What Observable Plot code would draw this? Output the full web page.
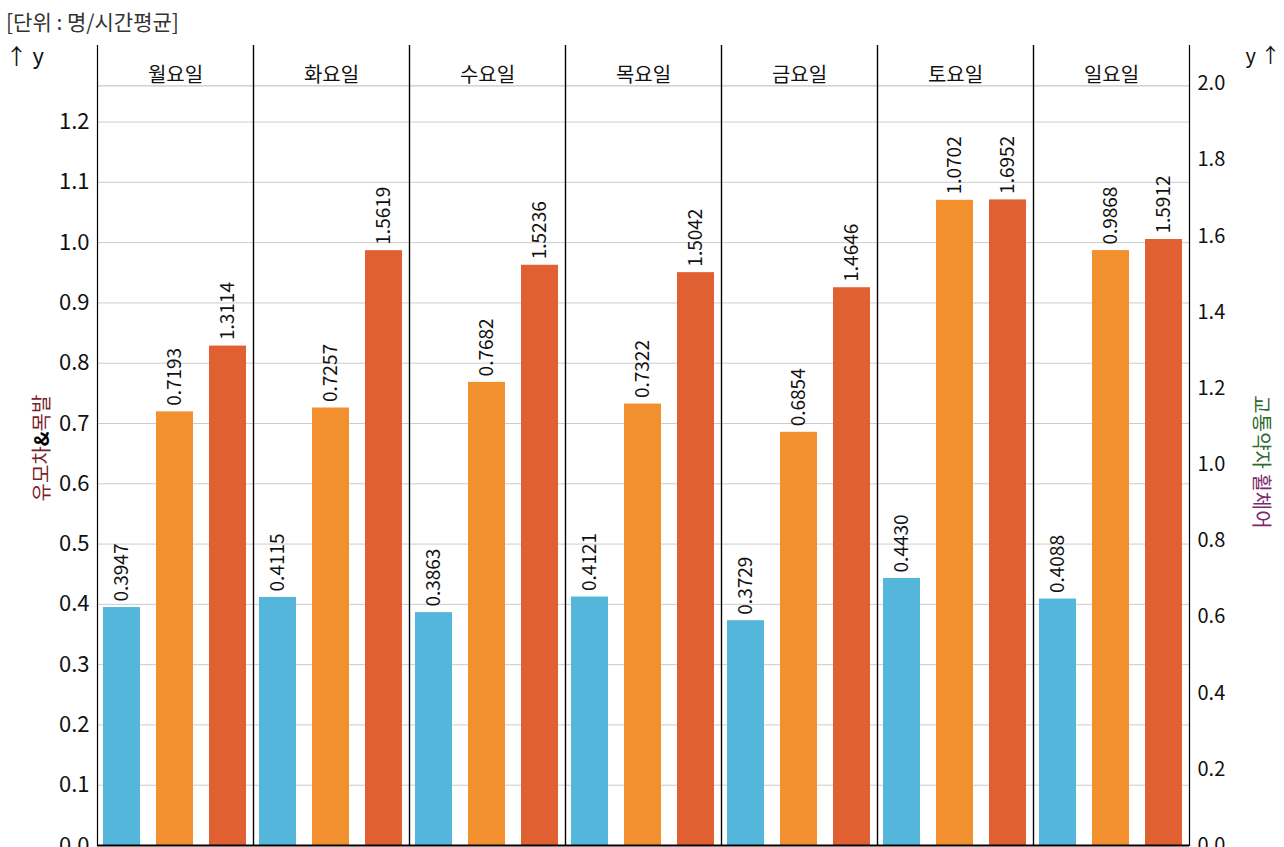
<!DOCTYPE html>
<html><head><meta charset="utf-8">
<script src="https://cdn.jsdelivr.net/npm/d3@7"></script>
<script src="https://cdn.jsdelivr.net/npm/@observablehq/plot@0.6"></script>
<style>
body{margin:0;font-family:"Noto Sans CJK KR","Noto Sans",sans-serif;background:#fff;position:relative;width:1284px;height:847px;overflow:hidden}
#title{position:absolute;left:6px;top:6px;font-size:21px;color:#333}
#chart{position:absolute;left:0;top:45px}
.lab{position:absolute;font-size:20px;white-space:nowrap}
</style></head><body>
<div id="title">[단위 : 명/시간평균]</div>
<div id="chart"></div>
<div class="lab" style="left:40px;top:448px;transform:translate(-50%,-50%) rotate(-90deg)"><span style="color:#7a1f2e">유모차</span><b>&amp;</b><span style="color:#7a1f2e">목발</span></div>
<div class="lab" style="left:1262px;top:462px;transform:translate(-50%,-50%) rotate(90deg)"><span style="color:#2d6a2d">교통약자</span> <span style="color:#7a2a6a">휠체어</span></div>
<script>
const days = ["월요일","화요일","수요일","목요일","금요일","토요일","일요일"];
const series = ["A","B","C"];
const blue = [0.3947,0.4115,0.3863,0.4121,0.3729,0.4430,0.4088];
const orange = [0.7193,0.7257,0.7682,0.7322,0.6854,1.0702,0.9868];
const red = [1.3114,1.5619,1.5236,1.5042,1.4646,1.6952,1.5912];
const colors = ["#53b6da","#f28f2e","#e06032"];
const k = 1.583; // right axis units per left axis unit

const data = [];
days.forEach((d,i)=>{
  data.push({day:d,s:"A",v:blue[i],y:blue[i]});
  data.push({day:d,s:"B",v:orange[i],y:orange[i]});
  data.push({day:d,s:"C",v:red[i],y:red[i]/k});
});
const leftTicks = d3.range(0,13).map(i=>i/10);
const rightTicks = d3.range(0,11).map(i=>i*0.2/k);
const yMax = 1.327, hdr = 1.26;

const chart = Plot.plot({
  width:1284, height:802,
  marginTop:0, marginBottom:2, marginLeft:95, marginRight:94,
  style:{fontSize:"20px",fontFamily:"Noto Sans CJK KR, Noto Sans, sans-serif"},
  fx:{domain:days,padding:0,axis:null},
  x:{domain:series,paddingInner:0.3,paddingOuter:0.1,axis:null},
  y:{domain:[0,yMax],axis:null},
  color:{domain:series,range:colors},
  marks:[
    Plot.ruleY(leftTicks,{stroke:"#ccc",strokeWidth:1}),
    Plot.ruleY([hdr],{stroke:"#bbb"}),
    Plot.barY(data,{fx:"day",x:"s",y:"y",fill:"s"}),
    Plot.text(data,{fx:"day",x:"s",y:"y",text:d=>d.v.toFixed(4),rotate:-90,textAnchor:"start",dy:-6,fontSize:19,fill:"#111"}),
    Plot.text(days,{fx:d=>d,frameAnchor:"top",dy:22,text:d=>d,fontSize:20,fill:"#111"}),
    Plot.axisY({ticks:leftTicks,anchor:"left",tickSize:0,tickPadding:8,tickFormat:d=>d.toFixed(1),fontSize:22,fill:"#111"}),
    Plot.axisY({ticks:rightTicks,anchor:"right",tickSize:0,tickPadding:8,tickFormat:d=>(d*k).toFixed(1),fontSize:20,fill:"#111"}),
    Plot.frame({anchor:"left",stroke:"#000",strokeWidth:1.2}),
    Plot.frame({anchor:"right",stroke:"#000",strokeWidth:1.2}),
    Plot.ruleY([0],{stroke:"#000",strokeWidth:2})
  ]
});
d3.select("#chart").append(()=>chart);
</script></body></html>
